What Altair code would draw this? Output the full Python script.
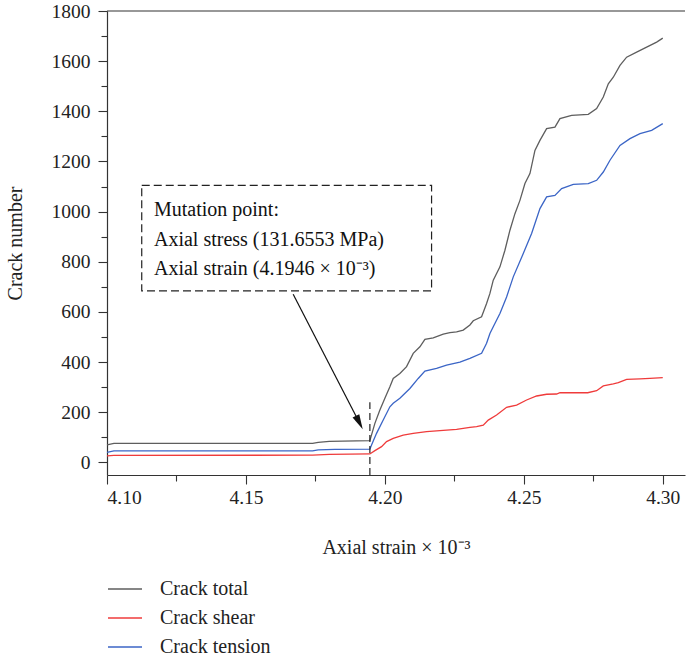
import altair as alt
import pandas as pd

# Crack counts against axial strain (x 10^-3)
total_strain = [4.100, 4.1025, 4.174, 4.176, 4.180, 4.1946, 4.1952, 4.1964, 4.1982, 4.2000,
                4.2018, 4.2030, 4.2054, 4.2078, 4.2102, 4.2126, 4.2144, 4.2174, 4.2210, 4.2234,
                4.2258, 4.2282, 4.2306, 4.2318, 4.2348, 4.2366, 4.2378, 4.2390, 4.2414, 4.2432,
                4.2450, 4.2468, 4.2486, 4.2504, 4.2522, 4.2540, 4.2558, 4.2582, 4.2612, 4.2630,
                4.2672, 4.2732, 4.2762, 4.2786, 4.2804, 4.2822, 4.2846, 4.2870, 4.2906, 4.2942,
                4.2978, 4.3000]
total_count = [70, 76, 76, 80, 84, 87, 110, 156, 209, 256,
               302, 335, 355, 382, 435, 461, 491, 497, 512, 518,
               521, 528, 548, 565, 581, 634, 674, 727, 780, 846,
               926, 992, 1045, 1112, 1152, 1244, 1284, 1331, 1337, 1371,
               1384, 1388, 1411, 1457, 1510, 1536, 1583, 1616, 1636, 1656,
               1676, 1692]

shear_strain = [4.100, 4.1025, 4.174, 4.180, 4.1946, 4.1964, 4.1988, 4.2006, 4.2030, 4.2066,
                4.2102, 4.2150, 4.2198, 4.2258, 4.2306, 4.2330, 4.2354, 4.2372, 4.2402, 4.2438,
                4.2474, 4.2510, 4.2546, 4.2582, 4.2618, 4.2630, 4.2730, 4.2762, 4.2786, 4.2822,
                4.2840, 4.2870, 4.2918, 4.2954, 4.3000]
shear_count = [26, 28, 29, 32, 34, 47, 63, 83, 96, 109,
               116, 123, 127, 132, 140, 143, 149, 169, 189, 220,
               229, 249, 265, 272, 273, 278, 278, 286, 305, 313,
               318, 331, 333, 335, 338]

tension_strain = [4.100, 4.1025, 4.174, 4.176, 4.182, 4.1946, 4.1952, 4.1970, 4.1994, 4.2018,
                  4.2030, 4.2054, 4.2090, 4.2120, 4.2144, 4.2186, 4.2222, 4.2270, 4.2306, 4.2348,
                  4.2366, 4.2378, 4.2390, 4.2414, 4.2438, 4.2462, 4.2498, 4.2528, 4.2558, 4.2582,
                  4.2612, 4.2636, 4.2678, 4.2732, 4.2762, 4.2786, 4.2810, 4.2846, 4.2882, 4.2918,
                  4.2960, 4.3000]
tension_count = [40, 46, 46, 50, 52, 53, 70, 116, 169, 222,
                 236, 256, 295, 335, 364, 375, 388, 400, 415, 435,
                 475, 514, 541, 594, 660, 740, 833, 913, 1012, 1059,
                 1065, 1092, 1109, 1112, 1125, 1158, 1205, 1264, 1291, 1311,
                 1324, 1351]

series_names = ["Crack total", "Crack shear", "Crack tension"]
series_colors = ["#5e5e5e", "#ef3b3b", "#3b65c6"]

# Mutation point annotation
mutation_strain = 4.1946
mutation_stress = 131.6553
mutation_line_top = 240
note_lines = ["Mutation point:",
              f"Axial stress ({mutation_stress} MPa)",
              f"Axial strain ({mutation_strain} × 10⁻³)"]
note_strain = [4.1169, 4.1169, 4.1169]
note_count = [1006, 886, 771]
box_strain = [4.1125, 4.2168]
box_count = [684, 1105]
arrow_start = [4.1670, 671]
arrow_head = [4.1908, 159]

x_ticks = [4.100, 4.125, 4.150, 4.175, 4.200, 4.225, 4.250, 4.275, 4.300]
y_ticks = list(range(0, 1801, 100))

FONT = "Liberation Serif"
INK = "#222222"

rows = []
for name, xs, ys in zip(series_names,
                        [total_strain, shear_strain, tension_strain],
                        [total_count, shear_count, tension_count]):
    for i, (xv, yv) in enumerate(zip(xs, ys)):
        rows.append({"strain": xv, "count": yv, "series": name, "idx": i})
curves = pd.DataFrame(rows)

x_scale = alt.Scale(domain=[4.1, 4.308], nice=False, zero=False)
y_scale = alt.Scale(domain=[-50, 1800], nice=False, zero=False)

x_axis = alt.Axis(
    values=x_ticks,
    labelExpr="round(datum.value * 1000) % 50 == 0 ? format(datum.value, '.2f') : ''",
    tickSize={"condition": {"test": "round(datum.value * 1000) % 50 == 0", "value": 9}, "value": 6},
    labelPadding=4,
    labelFont=FONT,
    labelFontSize=19.5,
    labelColor=INK,
    title="Axial strain × 10⁻³",
    titleFont=FONT,
    titleFontSize=20,
    titleY=72,
    titleBaseline="middle",
    grid=False,
)
y_axis = alt.Axis(
    values=y_ticks,
    format="d",
    labelExpr="datum.value % 200 == 0 ? datum.label : ''",
    tickSize={"condition": {"test": "datum.value % 200 == 0", "value": 9}, "value": 6},
    labelPadding=8,
    labelFont=FONT,
    labelFontSize=19.5,
    labelColor=INK,
    title="Crack number",
    titleFont=FONT,
    titleFontSize=20,
    titleX=-92,
    titleBaseline="middle",
    grid=False,
)

lines = alt.Chart(curves).mark_line(strokeWidth=1.3).encode(
    x=alt.X("strain:Q", scale=x_scale, axis=x_axis),
    y=alt.Y("count:Q", scale=y_scale, axis=y_axis),
    color=alt.Color(
        "series:N",
        scale=alt.Scale(domain=series_names, range=series_colors),
        legend=alt.Legend(
            orient="none", legendX=0, legendY=560, direction="vertical",
            title=None, symbolType="stroke", symbolSize=1156, symbolStrokeWidth=1.3,
            labelFont=FONT, labelFontSize=20, labelColor=INK, labelOffset=17,
            rowPadding=1, padding=0,
        ),
    ),
    detail="series:N",
    order="idx:Q",
)

top_border = alt.Chart(pd.DataFrame({"count": [1800]})).mark_rule(
    color="#333333", strokeWidth=1.2
).encode(y=alt.Y("count:Q", scale=y_scale, axis=y_axis))

mutation_rule = alt.Chart(pd.DataFrame({
    "strain": [mutation_strain], "count": [-50], "count_end": [mutation_line_top]
})).mark_rule(color=INK, strokeWidth=1.2, strokeDash=[7, 4]).encode(
    x=alt.X("strain:Q", scale=x_scale, axis=x_axis),
    y=alt.Y("count:Q", scale=y_scale, axis=y_axis),
    y2="count_end:Q",
)

note_box = alt.Chart(pd.DataFrame({
    "strain": [box_strain[0]], "strain_end": [box_strain[1]],
    "count": [box_count[0]], "count_end": [box_count[1]],
})).mark_rect(filled=False, stroke=INK, strokeWidth=1.2, strokeDash=[8, 4]).encode(
    x=alt.X("strain:Q", scale=x_scale, axis=x_axis),
    x2="strain_end:Q",
    y=alt.Y("count:Q", scale=y_scale, axis=y_axis),
    y2="count_end:Q",
)

note_text = alt.Chart(pd.DataFrame({
    "strain": note_strain, "count": note_count, "line": note_lines
})).mark_text(align="left", baseline="middle", font=FONT, fontSize=20, color="#111111").encode(
    x=alt.X("strain:Q", scale=x_scale, axis=x_axis),
    y=alt.Y("count:Q", scale=y_scale, axis=y_axis),
    text="line:N",
)

arrow_line = alt.Chart(pd.DataFrame({
    "strain": [arrow_start[0]], "count": [arrow_start[1]],
    "strain_end": [arrow_head[0]], "count_end": [arrow_head[1]],
})).mark_rule(color="#111111", strokeWidth=1.2).encode(
    x=alt.X("strain:Q", scale=x_scale, axis=x_axis),
    x2="strain_end:Q",
    y=alt.Y("count:Q", scale=y_scale, axis=y_axis),
    y2="count_end:Q",
)

arrow_tip = alt.Chart(pd.DataFrame({
    "strain": [arrow_head[0]], "count": [arrow_head[1]]
})).mark_point(
    shape="M0,-1L0.5,1L-0.5,1Z", size=225, filled=True, color="#111111",
    opacity=1, angle=153,
).encode(
    x=alt.X("strain:Q", scale=x_scale, axis=x_axis),
    y=alt.Y("count:Q", scale=y_scale, axis=y_axis),
)

chart = alt.layer(
    lines, top_border, mutation_rule, note_box, note_text, arrow_line, arrow_tip
).properties(
    width=578,
    height=464,
    autosize=alt.AutoSizeParams(type="none"),
    padding={"left": 107, "top": 11, "right": 3, "bottom": 181},
    background="white",
).configure_view(
    stroke=None
).configure_axis(
    domainColor="#333333",
    domainWidth=1.2,
    tickColor="#333333",
    tickWidth=1.1,
    labelFont=FONT,
    titleFont=FONT,
    labelColor=INK,
    titleColor=INK,
    titleFontWeight="normal",
)

chart.save("out.html", embed_options={"renderer": "svg", "actions": False})
